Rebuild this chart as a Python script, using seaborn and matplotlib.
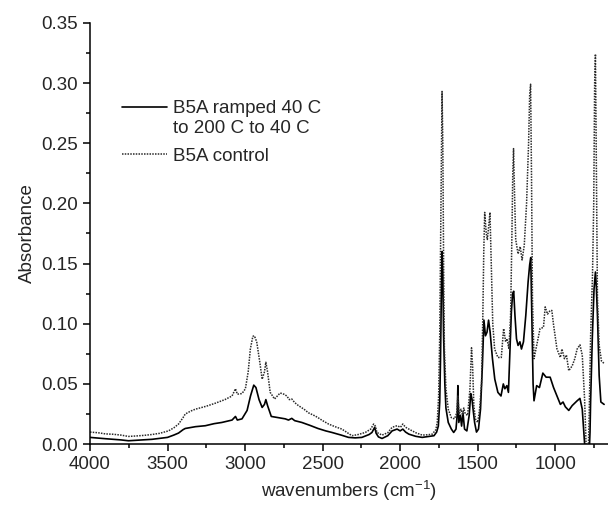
import pandas as pd
import matplotlib
matplotlib.use("Agg")
import matplotlib.pyplot as plt
from matplotlib.ticker import MultipleLocator
import seaborn as sns

# Spectrum of B5A control (dotted line)
control_wn = [4000, 3950, 3900, 3850, 3800, 3752, 3700, 3650, 3600, 3550, 3494, 3460, 3429,
              3400, 3386, 3350, 3321, 3250, 3192, 3130, 3084, 3062, 3050, 3020, 2998, 2980,
              2966, 2950, 2940, 2925, 2905, 2890, 2875, 2866, 2855, 2838, 2810, 2774, 2750,
              2731, 2715, 2699, 2680, 2656, 2620, 2591, 2550, 2530, 2500, 2462, 2420, 2376,
              2340, 2311, 2270, 2225, 2190, 2171, 2160, 2150, 2117, 2080, 2052, 2020, 1998,
              1983, 1965, 1944, 1900, 1858, 1820, 1793, 1770, 1761, 1752, 1745, 1740, 1735,
              1730, 1725, 1720, 1715, 1705, 1690, 1670, 1650, 1635, 1628, 1620, 1608, 1598,
              1590, 1580, 1565, 1550, 1540, 1533, 1525, 1515, 1500, 1488, 1475, 1467, 1461,
              1455, 1445, 1438, 1430, 1421, 1413, 1403, 1391, 1370, 1348, 1333, 1320, 1311,
              1299, 1288, 1280, 1274, 1269, 1263, 1255, 1240, 1226, 1214, 1200, 1185, 1172,
              1165, 1159, 1153, 1147, 1137, 1120, 1098, 1076, 1065, 1050, 1033, 1022, 1011,
              989, 967, 957, 941, 928, 913, 891, 874, 859, 841, 826, 811, 800, 790, 782, 772,
              760, 752, 746, 741, 736, 728, 717, 702, 685]
control_abs = [0.0100, 0.0095, 0.0085, 0.0082, 0.0075, 0.0064, 0.0068, 0.0073, 0.0080, 0.0090,
               0.0110, 0.0135, 0.0167, 0.0220, 0.0250, 0.0275, 0.0290, 0.0315, 0.0340, 0.0370,
               0.0400, 0.0460, 0.0415, 0.0420, 0.0460, 0.0600, 0.0790, 0.0895, 0.0900, 0.0850,
               0.0680, 0.0540, 0.0600, 0.0680, 0.0600, 0.0430, 0.0375, 0.0425, 0.0415, 0.0400,
               0.0370, 0.0375, 0.0345, 0.0320, 0.0290, 0.0260, 0.0235, 0.0220, 0.0195, 0.0167,
               0.0145, 0.0125, 0.0095, 0.0070, 0.0080, 0.0097, 0.0125, 0.0167, 0.0150, 0.0097,
               0.0075, 0.0095, 0.0140, 0.0153, 0.0140, 0.0167, 0.0140, 0.0125, 0.0095, 0.0075,
               0.0078, 0.0083, 0.0120, 0.0180, 0.0400, 0.0900, 0.1600, 0.2400, 0.2930, 0.2500,
               0.1500, 0.0800, 0.0460, 0.0290, 0.0220, 0.0210, 0.0260, 0.0400, 0.0250, 0.0290,
               0.0240, 0.0300, 0.0250, 0.0240, 0.0460, 0.0800, 0.0650, 0.0320, 0.0210, 0.0180,
               0.0290, 0.0510, 0.1070, 0.1600, 0.1925, 0.1750, 0.1700, 0.1800, 0.1925, 0.1500,
               0.1000, 0.0790, 0.0720, 0.0720, 0.0960, 0.0850, 0.0875, 0.0790, 0.1070, 0.1700,
               0.2250, 0.2455, 0.2100, 0.1700, 0.1580, 0.1640, 0.1530, 0.1650, 0.2000, 0.2500,
               0.2900, 0.2990, 0.2200, 0.1200, 0.0710, 0.0820, 0.0960, 0.0970, 0.1140, 0.1080,
               0.1110, 0.1110, 0.0990, 0.0790, 0.0720, 0.0790, 0.0710, 0.0740, 0.0610, 0.0650,
               0.0710, 0.0790, 0.0825, 0.0740, 0.0375, -0.0050, -0.0200, 0.0200, 0.0900,
               0.1400, 0.2000, 0.3000, 0.3240, 0.2500, 0.1210, 0.0820, 0.0690, 0.0670]

# Spectrum of B5A ramped 40 C -> 200 C -> 40 C (solid line)
ramped_wn = [4000, 3900, 3800, 3752, 3700, 3600, 3500, 3460, 3429, 3400, 3386, 3320, 3256,
             3200, 3150, 3084, 3062, 3050, 3020, 2987, 2965, 2944, 2930, 2910, 2890, 2875,
             2866, 2855, 2831, 2784, 2741, 2720, 2699, 2680, 2634, 2580, 2530, 2480, 2440,
             2380, 2333, 2290, 2247, 2200, 2182, 2164, 2155, 2140, 2117, 2080, 2052, 2020,
             2000, 1983, 1965, 1944, 1900, 1858, 1782, 1765, 1754, 1745, 1740, 1735, 1730,
             1725, 1720, 1712, 1705, 1690, 1670, 1655, 1640, 1632, 1628, 1622, 1612, 1604,
             1595, 1585, 1570, 1555, 1545, 1537, 1530, 1520, 1508, 1495, 1482, 1470, 1460,
             1450, 1440, 1430, 1420, 1405, 1390, 1370, 1350, 1335, 1325, 1312, 1302, 1292,
             1283, 1275, 1268, 1260, 1250, 1240, 1228, 1218, 1205, 1190, 1175, 1165, 1158,
             1150, 1143, 1137, 1120, 1102, 1080, 1059, 1033, 1011, 989, 967, 950, 935, 913,
             891, 859, 841, 826, 811, 800, 785, 776, 772, 761, 750, 741, 735, 728, 717, 706,
             685]
ramped_abs = [0.0056, 0.0045, 0.0035, 0.0028, 0.0032, 0.0040, 0.0056, 0.0075, 0.0092, 0.0120,
              0.0130, 0.0145, 0.0153, 0.0170, 0.0180, 0.0200, 0.0230, 0.0200, 0.0210, 0.0280,
              0.0400, 0.0490, 0.0470, 0.0370, 0.0305, 0.0330, 0.0370, 0.0320, 0.0230, 0.0220,
              0.0210, 0.0200, 0.0214, 0.0195, 0.0180, 0.0155, 0.0130, 0.0110, 0.0097, 0.0075,
              0.0056, 0.0052, 0.0056, 0.0080, 0.0097, 0.0140, 0.0090, 0.0060, 0.0047, 0.0070,
              0.0110, 0.0125, 0.0110, 0.0125, 0.0100, 0.0083, 0.0065, 0.0056, 0.0070, 0.0100,
              0.0150, 0.0350, 0.0700, 0.1200, 0.1600, 0.1400, 0.0900, 0.0500, 0.0300, 0.0180,
              0.0125, 0.0097, 0.0125, 0.0250, 0.0486, 0.0180, 0.0240, 0.0150, 0.0260, 0.0125,
              0.0110, 0.0240, 0.0420, 0.0375, 0.0290, 0.0180, 0.0100, 0.0125, 0.0290, 0.0650,
              0.1030, 0.0900, 0.0930, 0.1030, 0.0930, 0.0710, 0.0540, 0.0430, 0.0400, 0.0500,
              0.0460, 0.0486, 0.0430, 0.0790, 0.1100, 0.1250, 0.1270, 0.1070, 0.0875, 0.0820,
              0.0850, 0.0790, 0.0850, 0.1070, 0.1350, 0.1490, 0.1550, 0.1000, 0.0500, 0.0360,
              0.0486, 0.0470, 0.0590, 0.0556, 0.0556, 0.0470, 0.0400, 0.0330, 0.0350, 0.0310,
              0.0280, 0.0320, 0.0360, 0.0380, 0.0290, 0.0010, -0.0200, -0.0200, 0.0100, 0.0360,
              0.0890, 0.1290, 0.1430, 0.1300, 0.1070, 0.0570, 0.0350, 0.0330]

ramped_label = "B5A ramped 40 C\nto 200 C to 40 C"
control_label = "B5A control"

df_ramped = pd.DataFrame({"wn": ramped_wn, "A": ramped_abs})
df_control = pd.DataFrame({"wn": control_wn, "A": control_abs})

sns.set_style("ticks")
plt.rcParams["font.family"] = ["Liberation Sans", "DejaVu Sans"]
plt.rcParams["mathtext.default"] = "regular"
plt.rcParams["font.size"] = 13.5

fig = plt.figure(figsize=(6.08, 5.07), dpi=100)
ax = fig.add_axes([0.148, 0.124, 0.852, 0.831])

sns.lineplot(data=df_ramped, x="wn", y="A", ax=ax, color="black", linewidth=1.2,
             label=ramped_label, estimator=None, sort=False)
sns.lineplot(data=df_control, x="wn", y="A", ax=ax, color="#2a2a2a", linewidth=1.1,
             linestyle=(0, (1, 0.8)), label=control_label, estimator=None, sort=False)

ax.set_xlim(4000, 660)
ax.set_ylim(0, 0.35)
ax.xaxis.set_major_locator(MultipleLocator(500))
ax.xaxis.set_minor_locator(MultipleLocator(250))
ax.yaxis.set_major_locator(MultipleLocator(0.05))
ax.yaxis.set_minor_locator(MultipleLocator(0.025))
ax.yaxis.set_major_formatter(lambda v, p: f"{v:.2f}")

ax.tick_params(which="major", direction="out", length=5, width=1.1, labelsize=13.5, color="black")
ax.tick_params(which="minor", direction="out", length=3, width=1.1, color="black")
for side in ["top", "right"]:
    ax.spines[side].set_visible(False)
for side in ["left", "bottom"]:
    ax.spines[side].set_linewidth(1.1)
    ax.spines[side].set_color("black")

ax.set_xlabel("wavenumbers (cm$^{-1}$)", fontsize=13.5)
ax.set_ylabel("Absorbance", fontsize=13.5)

leg = ax.legend(loc="upper left", bbox_to_anchor=(0.062, 0.816), frameon=False, borderpad=0,
                borderaxespad=0, handlelength=2.4, handletextpad=0.3, labelspacing=0.57,
                fontsize=13.5)
# put the solid handle level with the first line of its two-line label
first = leg.get_lines()[0]
first.set_ydata([y + 8 for y in first.get_ydata()])

fig.savefig("out.png", dpi=100)
